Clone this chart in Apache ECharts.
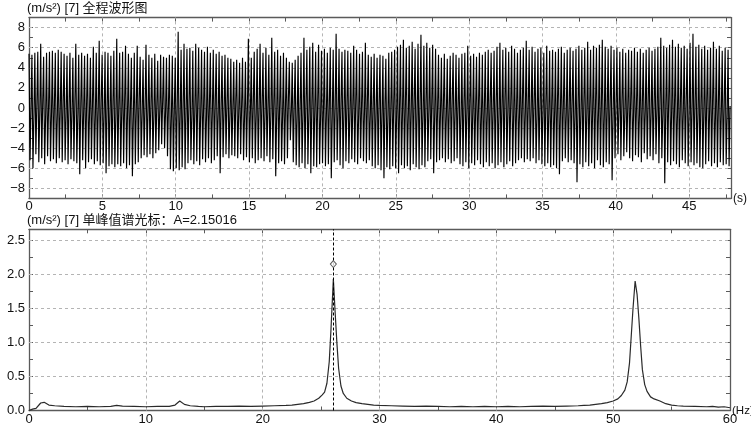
<!DOCTYPE html>
<html><head><meta charset="utf-8">
<script src="https://cdn.jsdelivr.net/npm/echarts@6/dist/echarts.min.js"></script>
<style>html,body{margin:0;padding:0;background:#fff}#c{width:751px;height:427px}</style>
</head><body><div id="c"></div>
<script>
// ---------- data ----------
const waveTitle = '(m/s\u00B2) [7] 全程波形图';
const specTitle = '(m/s\u00B2) [7] 单峰值谱光标：A=2.15016';
const waveTimeMax = 47.85;          // s, end of record
const waveGridY = [-8, -6, -4, -2, 0, 2, 4, 6, 8];
const waveGridX = [5, 10, 15, 20, 25, 30, 35, 40, 45];
// positive peak of each cycle (m/s2)
const wavePeaks = [
 5.4,5.3,5.5,5.6,6.4,5.1,5.5,5.6,5.7,5.5, 5.8,5.6,5.4,5.2,5.5,5.0,6.4,5.3,5.5,5.2,
 5.4,5.0,6.1,5.5,6.7,5.3,5.6,5.5,5.2,5.7, 6.9,5.5,5.6,6.2,5.4,5.0,5.5,6.2,5.1,4.8,
 6.3,5.3,5.0,5.4,4.7,5.3,5.1,5.0,5.3,5.2, 5.0,7.6,5.8,6.4,5.9,6.0,5.7,6.4,6.0,5.8,
 5.6,6.1,5.5,5.8,5.4,5.6,5.2,5.3,5.0,4.9, 4.6,4.8,4.5,5.0,4.6,6.9,5.0,5.6,5.9,6.4,
 5.5,6.0,5.3,7.0,5.6,5.8,5.2,5.5,5.0,4.6, 4.5,4.8,5.2,5.5,7.0,5.8,6.1,6.5,5.6,6.3,
 5.7,5.9,5.5,6.0,5.8,7.4,5.9,5.6,5.8,5.7, 5.5,6.2,5.8,5.4,5.6,6.5,5.3,5.1,5.4,5.0,
 5.3,5.2,4.9,5.5,5.6,5.8,6.1,6.3,6.8,6.0, 6.2,6.6,5.9,6.4,7.3,6.2,6.5,6.0,6.3,5.9,
 5.3,5.0,5.4,4.9,5.2,5.5,5.3,5.0,5.4,5.5, 6.2,5.2,5.4,5.1,5.5,5.3,5.6,5.8,5.5,5.7,
 6.1,6.5,5.8,6.0,5.6,6.2,5.9,5.5,5.8,6.0, 6.7,5.8,6.1,5.6,5.9,6.0,5.5,6.2,5.7,5.8,
 5.6,5.9,6.1,5.5,5.8,6.0,5.7,5.9,6.2,5.8, 6.0,6.6,5.8,6.2,6.0,6.3,6.8,6.1,5.9,6.2,
 5.8,6.0,5.6,5.9,5.5,5.8,5.7,6.0,5.6,5.9, 5.5,5.8,6.0,5.7,5.9,6.1,7.0,6.2,6.0,6.3,
 6.8,6.1,6.4,6.0,6.2,5.9,6.5,7.4,6.1,6.3, 5.9,6.2,5.8,6.0,6.6,5.9,6.2,5.7,6.0,5.8
];
// negative trough of each cycle (m/s2)
const waveTroughs = [
 -5.2,-6.0,-4.6,-5.4,-5.0,-5.6,-4.8,-5.3,-5.1,-5.5, -5.0,-5.4,-5.2,-5.6,-5.1,-5.3,-5.5,-6.6,-5.2,-6.0,
 -5.4,-5.1,-5.6,-5.3,-5.7,-5.5,-6.5,-5.8,-5.6,-5.9, -5.6,-5.8,-5.5,-6.0,-5.7,-6.8,-5.6,-5.4,-5.0,-4.7,
 -4.9,-4.6,-5.0,-4.5,-4.2,-3.6,-4.0,-4.8,-6.1,-6.3, -6.0,-6.2,-5.9,-6.1,-5.5,-5.2,-5.6,-5.3,-5.7,-5.1,
 -5.4,-5.0,-5.5,-5.2,-4.8,-6.5,-4.9,-4.6,-5.0,-4.7, -4.8,-5.0,-4.6,-5.2,-4.9,-5.4,-5.0,-5.5,-5.2,-5.0,
 -5.3,-4.8,-5.4,-5.1,-6.8,-5.5,-5.3,-5.6,-5.0,-3.2, -5.4,-5.7,-5.9,-5.5,-6.0,-5.6,-6.5,-5.8,-5.9,-5.6,
 -5.5,-5.8,-5.6,-7.0,-5.4,-5.2,-5.7,-6.0,-5.3,-5.5, -5.1,-5.4,-5.6,-5.0,-5.3,-5.5,-5.2,-5.8,-6.0,-5.7,
 -6.2,-7.0,-5.9,-6.1,-5.8,-6.0,-6.5,-5.7,-6.0,-5.8, -6.2,-5.6,-5.9,-6.1,-5.7,-5.9,-5.3,-5.1,-6.5,-5.4,
 -5.2,-5.0,-5.4,-5.1,-5.5,-5.3,-5.0,-5.6,-5.8,-5.4, -6.0,-5.5,-5.7,-5.2,-5.6,-5.9,-5.4,-5.8,-5.5,-6.0,
 -5.7,-5.4,-5.9,-5.6,-5.3,-5.8,-5.5,-5.2,-5.0,-5.4, -5.1,-5.3,-5.0,-5.5,-5.2,-5.6,-5.8,-5.5,-5.9,-5.7,
 -6.0,-6.6,-5.3,-5.0,-5.4,-5.2,-5.5,-7.4,-5.6,-5.9, -5.4,-5.8,-5.5,-6.0,-5.2,-5.7,-5.9,-5.4,-5.6,-7.2,
 -5.0,-4.6,-5.2,-4.8,-4.4,-5.0,-5.3,-4.7,-4.9,-5.4, -4.5,-5.1,-4.8,-5.2,-4.6,-5.5,-5.0,-7.5,-5.4,-5.7,
 -5.3,-5.6,-5.9,-5.2,-5.5,-5.8,-5.4,-5.7,-5.5,-5.9, -6.0,-5.6,-5.3,-5.8,-5.5,-5.9,-5.4,-5.7,-5.6,-5.8
];
// near-zero settling value after each cycle (m/s2)
const waveMids = [
 0.3,-0.4,0.6,-0.2,0.8,-0.5,0.2,-0.3,0.5,-0.6, 0.1,0.7,-0.4,0.3,-0.2,0.9,-0.5,0.4,-0.1,0.6,
 -0.3,0.5,-0.6,0.2,0.8,-0.4,0.3,-0.2,0.6,-0.5, 0.4,-0.3,0.7,-0.1,0.5,-0.6,0.2,0.9,-0.4,0.3,
 -0.2,0.6,-0.5,0.4,-0.3,0.8,-0.1,0.5,-0.6,0.2, 0.7,-0.4,0.3,-0.2,0.6,-0.5,0.1,0.8,-0.3,0.4,
 -0.6,0.5,-0.2,0.7,-0.4,0.3,-0.1,0.6,-0.5,0.2, 0.9,-0.3,0.4,-0.6,0.5,-0.2,0.8,-0.4,0.1,0.6,
 -0.5,0.3,-0.3,0.7,-0.1,0.5,-0.6,0.4,1.0,-0.2, 0.6,-0.5,0.2,-0.4,0.8,-0.3,0.5,-0.1,0.7,-0.6,
 0.3,-0.2,0.6,-0.5,0.4,-0.3,0.9,-0.1,0.5,-0.4, 0.2,0.7,-0.6,0.3,-0.2,0.8,-0.5,0.4,-0.1,0.6,
 -0.3,0.5,-0.6,0.2,0.7,-0.4,0.3,-0.2,0.6,-0.5, 0.1,0.8,-0.3,0.4,-0.6,0.5,-0.2,0.7,-0.4,0.3,
 -0.1,0.6,-0.5,0.2,0.9,-0.3,0.4,-0.6,0.5,-0.2, 0.8,-0.4,0.1,0.6,-0.5,0.3,-0.3,0.7,-0.1,0.5,
 -0.6,0.4,1.0,-0.2,0.6,-0.5,0.2,-0.4,0.8,-0.3, 0.5,-0.1,0.7,-0.6,0.3,-0.2,0.6,-0.5,0.4,-0.3,
 0.9,-0.1,0.5,-0.4,0.2,0.7,-0.6,0.3,-0.2,0.8, -0.5,0.4,-0.1,0.6,-0.3,0.5,-0.6,0.2,0.7,-0.4,
 0.3,-0.2,0.6,-0.5,0.1,0.8,-0.3,0.4,-0.6,0.5, -0.2,0.7,-0.4,0.3,-0.1,0.6,-0.5,0.2,0.9,-0.3,
 0.4,-0.6,0.5,-0.2,0.8,-0.4,0.1,0.6,-0.5,0.3, -0.3,0.7,-0.1,0.5,-0.6,0.4,-0.2,0.6,-0.5,0.2
];
const specGridY = [0.5, 1.0, 1.5, 2.0, 2.5];
const specGridX = [10, 20, 30, 40, 50];
const specFreqs = [0,0.3,0.6,1.0,1.3,1.7,2.2,3,4,5,6,7,7.5,8,9,10,11,12,12.5,12.9,13.3,13.8,14.5,15,16,17,18,19,20,21,22,22.5,23,23.5,24,24.4,24.8,25.1,25.3,25.5,25.7,25.85,26.05,26.2,26.35,26.5,26.7,26.9,27.2,27.6,28.0,28.5,29,29.5,30,31,32,33,34,35,36,37,38,39,40,41,42,43,44,45,46,47,47.5,48,48.5,49,49.5,50,50.4,50.7,51.0,51.2,51.4,51.55,51.7,51.88,52.05,52.2,52.35,52.5,52.7,52.9,53.2,53.5,54,54.5,55,55.5,56,57,58,58.5,59,59.5,60];
const specAmps = [0.0,0.02,0.03,0.11,0.12,0.08,0.07,0.06,0.055,0.06,0.055,0.06,0.075,0.065,0.06,0.055,0.06,0.06,0.08,0.14,0.09,0.07,0.06,0.055,0.06,0.06,0.065,0.06,0.065,0.07,0.075,0.08,0.09,0.1,0.12,0.14,0.18,0.23,0.27,0.4,0.72,1.2,1.93,1.45,1.0,0.62,0.36,0.25,0.18,0.14,0.115,0.1,0.09,0.08,0.075,0.07,0.065,0.06,0.065,0.06,0.055,0.06,0.055,0.06,0.055,0.06,0.055,0.06,0.065,0.06,0.065,0.07,0.075,0.08,0.09,0.1,0.115,0.14,0.17,0.22,0.3,0.42,0.7,1.1,1.5,1.9,1.7,1.35,0.95,0.6,0.38,0.28,0.2,0.17,0.14,0.1,0.08,0.07,0.065,0.06,0.055,0.06,0.05,0.055,0.04];
const cursorFreq = 26.05;
const cursorAmp = 2.15016;

// ---------- build ----------
const cycleT = waveTimeMax / wavePeaks.length;
const waveData = [];
wavePeaks.forEach((p, i) => {
  const t0 = i * cycleT;
  waveData.push([t0, p]);
  waveData.push([t0 + 0.35 * cycleT, waveTroughs[i]]);
  waveData.push([t0 + 0.7 * cycleT, waveMids[i]]);
});
const specData = specFreqs.map((f, i) => [f, specAmps[i]]);

const FONT = '"Liberation Sans", Arial, "Noto Sans CJK SC", sans-serif';
const AX = '#5a5a5a';
const GRIDC = '#b4b4b4';
const isMult = (v, s) => Math.abs(v / s - Math.round(v / s)) < 1e-6;

function axisBase(extra) {
  return Object.assign({
    type: 'value',
    axisLine: { show: true, onZero: false, lineStyle: { color: AX, width: 1.3 } },
    axisTick: { show: true, inside: true, length: 4, lineStyle: { color: AX } },
    splitLine: { show: false },
    axisLabel: { show: false },
  }, extra);
}
const labelStyle = { show: true, color: '#111', fontSize: 13, fontFamily: FONT };

const gridLineStyle = { color: GRIDC, type: [3, 3], width: 1 };
function gridMarks(xs, ys) {
  return {
    silent: true, symbol: 'none', z: 1, animation: false,
    label: { show: false },
    lineStyle: gridLineStyle,
    emphasis: { disabled: true },
    data: xs.map(v => ({ xAxis: v })).concat(ys.map(v => ({ yAxis: v })))
  };
}

const chart = echarts.init(document.getElementById('c'), null, { renderer: 'canvas' });
chart.setOption({
  animation: false,
  backgroundColor: '#fff',
  textStyle: { fontFamily: FONT },
  title: [
    { text: waveTitle, left: 27, top: 2, padding: 0, textStyle: { fontSize: 13, fontWeight: 'normal', color: '#111', fontFamily: FONT } },
    { text: specTitle, left: 27, top: 214, padding: 0, textStyle: { fontSize: 13, fontWeight: 'normal', color: '#111', fontFamily: FONT } }
  ],
  grid: [
    { left: 29, right: 20, top: 17.6, height: 180.8, containLabel: false, outerBoundsMode: 'none' },
    { left: 29, right: 21, top: 229.3, bottom: 16.5, containLabel: false, outerBoundsMode: 'none' }
  ],
  xAxis: [
    axisBase({ gridIndex: 0, position: 'bottom', min: 0, max: waveTimeMax, interval: 2.5,
      axisLabel: Object.assign({}, labelStyle, { margin: 2, showMaxLabel: false, formatter: v => isMult(v, 5) ? String(v) : '' }),
      name: '(s)', nameLocation: 'end', nameGap: 2, nameMoveOverlap: false,
      nameTextStyle: { color: '#111', fontSize: 12, fontFamily: FONT, padding: [0, 0, 5, 0] } }),
    axisBase({ gridIndex: 0, position: 'top', min: 0, max: waveTimeMax, interval: 2.5 }),
    axisBase({ gridIndex: 1, position: 'bottom', min: 0, max: 60, interval: 5,
      axisLabel: Object.assign({}, labelStyle, { margin: 2, formatter: v => isMult(v, 10) ? String(v) : '' }),
      name: '(Hz)', nameLocation: 'end', nameGap: 2, nameMoveOverlap: false,
      nameTextStyle: { color: '#111', fontSize: 11.5, fontFamily: FONT, padding: [0, 0, 3, 0], width: 30, overflow: 'none' } }),
    axisBase({ gridIndex: 1, position: 'top', min: 0, max: 60, interval: 5 })
  ],
  yAxis: [
    axisBase({ gridIndex: 0, position: 'left', min: -9, max: 9, interval: 1,
      axisLabel: Object.assign({}, labelStyle, { margin: 4, formatter: v => isMult(v, 2) ? String(v).replace('-', '\u2212') : '' }) }),
    axisBase({ gridIndex: 0, position: 'right', min: -9, max: 9, interval: 1 }),
    axisBase({ gridIndex: 1, position: 'left', min: 0, max: 2.66, interval: 0.25,
      axisLabel: Object.assign({}, labelStyle, { margin: 4, showMaxLabel: false, formatter: v => isMult(v, 0.5) ? v.toFixed(1) : '' }) }),
    axisBase({ gridIndex: 1, position: 'right', min: 0, max: 2.66, interval: 0.25 })
  ],
  series: [
    {
      type: 'line', xAxisIndex: 0, yAxisIndex: 0, z: 3,
      data: waveData, showSymbol: false, symbol: 'none', silent: true,
      lineStyle: { color: '#000', width: 1.15 },
      markLine: gridMarks(waveGridX, waveGridY)
    },
    {
      type: 'line', xAxisIndex: 2, yAxisIndex: 2, z: 3,
      data: specData, showSymbol: false, symbol: 'none', silent: true,
      lineStyle: { color: '#2a2a2a', width: 1.2 },
      markLine: gridMarks(specGridX, specGridY)
    },
    {
      type: 'line', xAxisIndex: 2, yAxisIndex: 2, z: 4, data: [],
      markLine: {
        silent: true, symbol: 'none', z: 4, animation: false, label: { show: false },
        lineStyle: { color: '#000', type: [3, 2], width: 1 },
        data: [{ xAxis: cursorFreq }]
      }
    },
    {
      type: 'scatter', xAxisIndex: 2, yAxisIndex: 2, z: 5, silent: true,
      symbol: 'diamond', symbolSize: [6, 7],
      itemStyle: { color: '#fff', borderColor: '#333', borderWidth: 1 },
      data: [[cursorFreq, cursorAmp]]
    }
  ]
});
</script>
</body></html>
